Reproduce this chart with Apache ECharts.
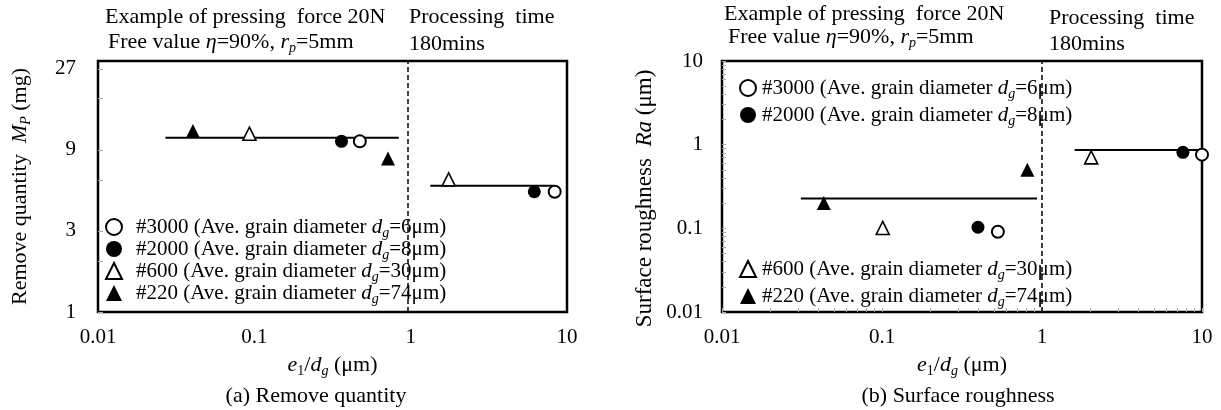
<!DOCTYPE html>
<html><head><meta charset="utf-8">
<script src="https://cdn.jsdelivr.net/npm/echarts@6/dist/echarts.min.js"></script>
<style>html,body{margin:0;padding:0;background:#fff}#c{width:1221px;height:410px}</style>
</head><body><div id="c"></div>
<script>
// ---------- data ----------
const meshNames = ['#3000', '#2000', '#600', '#220'];
const grainDiameters = [6, 8, 30, 74];

// (a) Remove quantity M_P (mg) vs e1/dg
const removeX_3000 = [0.473, 8.34];
const removeY_3000 = [10.1, 5.1];
const removeX_2000 = [0.361, 6.18];
const removeY_2000 = [10.1, 5.1];
const removeX_600 = [0.093, 1.75];
const removeY_600 = [11.2, 6.03];
const removeX_220 = [0.0405, 0.716];
const removeY_220 = [11.6, 8.0];
const removeAvgLowX = [0.027, 0.84];
const removeAvgLowY = [10.6, 10.6];
const removeAvgHighX = [1.335, 8.22];
const removeAvgHighY = [5.53, 5.53];
const removeBoundaryX = 0.96;

// (b) Surface roughness Ra (um) vs e1/dg
const roughX_3000 = [0.53, 10];
const roughY_3000 = [0.091, 0.76];
const roughX_2000 = [0.398, 7.6];
const roughY_2000 = [0.103, 0.81];
const roughX_600 = [0.101, 2.03];
const roughY_600 = [0.101, 0.705];
const roughX_220 = [0.0433, 0.81];
const roughY_220 = [0.201, 0.503];
const roughAvgLowX = [0.0311, 0.93];
const roughAvgLowY = [0.228, 0.228];
const roughAvgHighX = [1.6, 10];
const roughAvgHighY = [0.865, 0.865];
const roughBoundaryX = 1;

// axis ticks
const xTickLabels = [0.01, 0.1, 1, 10];
const removeYTickLabels = [1, 3, 9, 27];
const roughYTickLabels = [0.01, 0.1, 1, 10];
const log10MinorTicks = [0.01,0.02,0.03,0.04,0.05,0.06,0.07,0.08,0.09,
  0.1,0.2,0.3,0.4,0.5,0.6,0.7,0.8,0.9,1,2,3,4,5,6,7,8,9,10];
const removeYMinorTicks = [1, 2, 3, 6, 9, 18, 27];

// ---------- styles ----------
const F = '"Liberation Serif", "Times New Roman", serif';
const markerStyle = [
  {symbol: 'circle', symbolSize: 12, itemStyle: {color: '#fff', borderColor: '#000', borderWidth: 2, opacity: 1}},
  {symbol: 'circle', symbolSize: 13, itemStyle: {color: '#000', borderColor: '#000', borderWidth: 0, opacity: 1}},
  {symbol: 'triangle', symbolSize: 13, itemStyle: {color: '#fff', borderColor: '#000', borderWidth: 1.6, opacity: 1}},
  {symbol: 'triangle', symbolSize: 14, itemStyle: {color: '#000', borderColor: '#000', borderWidth: 0, opacity: 1}}
];

function rich(fs, lh) {
  const sub = Math.round(fs * 0.65);
  const pad = Math.round(lh * 0.45);
  return {
    t: {fontFamily: F, fontSize: fs, lineHeight: lh, color: '#000'},
    t0: {fontFamily: F, fontSize: fs, lineHeight: lh, color: '#000', padding: [0, 0, 0, 9]},
    t1: {fontFamily: F, fontSize: fs, lineHeight: lh, color: '#000', padding: [0, 0, 0, 1]},
    i: {fontFamily: F, fontSize: fs, lineHeight: lh, color: '#000', fontStyle: 'italic'},
    si: {fontFamily: F, fontSize: sub, lineHeight: lh - pad, color: '#000', fontStyle: 'italic', verticalAlign: 'top', padding: [pad, 0, 0, 0]},
    s: {fontFamily: F, fontSize: sub, lineHeight: lh - pad, color: '#000', verticalAlign: 'top', padding: [pad, 0, 0, 0]}
  };
}
function grichStyles() {
  return {
    t: {fontFamily: F, fontSize: 22, lineHeight: 24, fill: '#000'},
    i: {fontFamily: F, fontSize: 22, lineHeight: 24, fill: '#000', fontStyle: 'italic'},
    si: {fontFamily: F, fontSize: 14, lineHeight: 13, fill: '#000', fontStyle: 'italic', verticalAlign: 'top', padding: [11, 0, 0, 0]}
  };
}

function legendFormatter(firstStyle) {
  return function (name) {
    const k = meshNames.indexOf(name);
    return '{' + firstStyle + '|' + name + ' (Ave. grain diameter }{i|d}{si|g}{t|=' + grainDiameters[k] + 'μm)}';
  };
}

function pairs(xs, ys) { return xs.map((x, i) => [x, ys[i]]); }

function scatter(k, xs, ys, gi) {
  const m = markerStyle[k];
  return {
    type: 'scatter', name: meshNames[k], xAxisIndex: gi, yAxisIndex: gi,
    data: pairs(xs, ys), symbol: m.symbol, symbolSize: m.symbolSize,
    itemStyle: m.itemStyle, z: 5, clip: false, silent: true
  };
}
function avgLine(xs, ys, gi, boundary) {
  const s = {
    type: 'line', xAxisIndex: gi, yAxisIndex: gi, data: pairs(xs, ys),
    symbol: 'none', lineStyle: {color: '#000', width: 2}, z: 3, clip: false, silent: true
  };
  if (boundary !== undefined) {
    s.markLine = {
      symbol: 'none', silent: true, label: {show: false}, animation: false,
      lineStyle: {color: '#000', width: 1.5, type: [5, 3]},
      data: [{xAxis: boundary}]
    };
  }
  return s;
}

const axisLabelStyle = {fontFamily: F, fontSize: 21, color: '#000'};

function xAxisDef(gi, minor) {
  return {
    type: 'log', logBase: 10, min: 0.01, max: 10, gridIndex: gi,
    axisLine: {show: true, lineStyle: {color: '#000', width: 2}},
    axisTick: minor ? {show: true, inside: true, length: 4, lineStyle: {color: '#aaa'}, customValues: log10MinorTicks} : {show: false},
    splitLine: {show: false},
    axisLabel: Object.assign({margin: 15, formatter: v => {
      const r = xTickLabels.find(t => Math.abs(t - v) / t < 1e-6); return r === undefined ? '' : String(r);
    }}, axisLabelStyle),
    name: '{i|e}{s|1}{t|/}{i|d}{si|g}{t| (μm)}',
    nameLocation: 'middle', nameGap: 37,
    nameTextStyle: {rich: rich(22, 24)}
  };
}

const option = {
  animation: false,
  backgroundColor: '#fff',
  grid: [
    {left: 98, top: 61, width: 469, height: 251, show: true, borderColor: '#000', borderWidth: 2.5, containLabel: false},
    {left: 722, top: 61, width: 480, height: 251, show: true, borderColor: '#000', borderWidth: 2.5, containLabel: false}
  ],
  xAxis: [xAxisDef(0, false), xAxisDef(1, true)],
  yAxis: [
    {
      type: 'log', logBase: 3, min: 1, max: 30, gridIndex: 0,
      axisLine: {show: true, lineStyle: {color: '#000', width: 2}},
      axisTick: {show: true, inside: true, length: 5, lineStyle: {color: '#aaa'}, customValues: removeYMinorTicks},
      splitLine: {show: false},
      axisLabel: Object.assign({margin: 22, showMaxLabel: false, formatter: v => {
        const r = removeYTickLabels.find(t => Math.abs(t - v) / t < 1e-6); return r === undefined ? '' : String(r);
      }}, axisLabelStyle),
      name: '{t|Remove quantity  }{i|M}{si|P}{t| (mg)}',
      nameLocation: 'middle', nameGap: 66, nameRotate: 90,
      nameTextStyle: {rich: rich(22, 24)}
    },
    {
      type: 'log', logBase: 10, min: 0.01, max: 10, gridIndex: 1,
      axisLine: {show: true, lineStyle: {color: '#000', width: 2}},
      axisTick: {show: true, inside: true, length: 4, lineStyle: {color: '#aaa'}, customValues: log10MinorTicks},
      splitLine: {show: false},
      axisLabel: Object.assign({margin: 19, formatter: v => {
        const r = roughYTickLabels.find(t => Math.abs(t - v) / t < 1e-6); return r === undefined ? '' : String(r);
      }}, axisLabelStyle),
      name: '{t|Surface roughness  }{i|Ra}{t| (μm)}',
      nameLocation: 'middle', nameGap: 65, nameRotate: 90,
      nameTextStyle: {rich: rich(23, 25), padding: [0, 24, 0, 0]}
    }
  ],
  legend: [
    {data: meshNames, orient: 'vertical', left: 100, top: 211, itemWidth: 16, itemHeight: 16, itemGap: -2,
     selectedMode: false, formatter: legendFormatter('t0'), textStyle: {rich: rich(21, 22)}},
    {data: meshNames.slice(0, 2), orient: 'vertical', left: 734, top: 72, itemWidth: 16, itemHeight: 16, itemGap: 3,
     selectedMode: false, formatter: legendFormatter('t1'), textStyle: {rich: rich(21, 22)}},
    {data: meshNames.slice(2), orient: 'vertical', left: 734, top: 253, itemWidth: 16, itemHeight: 16, itemGap: 3,
     selectedMode: false, formatter: legendFormatter('t1'), textStyle: {rich: rich(21, 22)}}
  ],
  series: [
    avgLine(removeAvgLowX, removeAvgLowY, 0, removeBoundaryX),
    avgLine(removeAvgHighX, removeAvgHighY, 0),
    scatter(0, removeX_3000, removeY_3000, 0),
    scatter(1, removeX_2000, removeY_2000, 0),
    scatter(2, removeX_600, removeY_600, 0),
    scatter(3, removeX_220, removeY_220, 0),
    avgLine(roughAvgLowX, roughAvgLowY, 1, roughBoundaryX),
    avgLine(roughAvgHighX, roughAvgHighY, 1),
    scatter(0, roughX_3000, roughY_3000, 1),
    scatter(1, roughX_2000, roughY_2000, 1),
    scatter(2, roughX_600, roughY_600, 1),
    scatter(3, roughX_220, roughY_220, 1)
  ],
  graphic: [
    {type: 'text', x: 105, y: 17, style: {text: '{t|Example of pressing  force 20N}', rich: grichStyles(), verticalAlign: 'middle'}},
    {type: 'text', x: 108, y: 42, style: {text: '{t|Free value }{i|η}{t|=90%, }{i|r}{si|p}{t|=5mm}', rich: grichStyles(), verticalAlign: 'middle'}},
    {type: 'text', x: 409, y: 17, style: {text: '{t|Processing  time}', rich: grichStyles(), verticalAlign: 'middle'}},
    {type: 'text', x: 409, y: 44, style: {text: '{t|180mins}', rich: grichStyles(), verticalAlign: 'middle'}},
    {type: 'text', x: 724, y: 14, style: {text: '{t|Example of pressing  force 20N}', rich: grichStyles(), verticalAlign: 'middle'}},
    {type: 'text', x: 728, y: 37, style: {text: '{t|Free value }{i|η}{t|=90%, }{i|r}{si|p}{t|=5mm}', rich: grichStyles(), verticalAlign: 'middle'}},
    {type: 'text', x: 1049, y: 18, style: {text: '{t|Processing  time}', rich: grichStyles(), verticalAlign: 'middle'}},
    {type: 'text', x: 1049, y: 44, style: {text: '{t|180mins}', rich: grichStyles(), verticalAlign: 'middle'}},
    {type: 'text', x: 316, y: 396, style: {text: '{t|(a) Remove quantity}', rich: grichStyles(), align: 'center', verticalAlign: 'middle'}},
    {type: 'text', x: 958, y: 396, style: {text: '{t|(b) Surface roughness}', rich: grichStyles(), align: 'center', verticalAlign: 'middle'}}
  ]
};

const chart = echarts.init(document.getElementById('c'), null, {renderer: 'canvas'});
chart.setOption(option);
</script>
</body></html>
